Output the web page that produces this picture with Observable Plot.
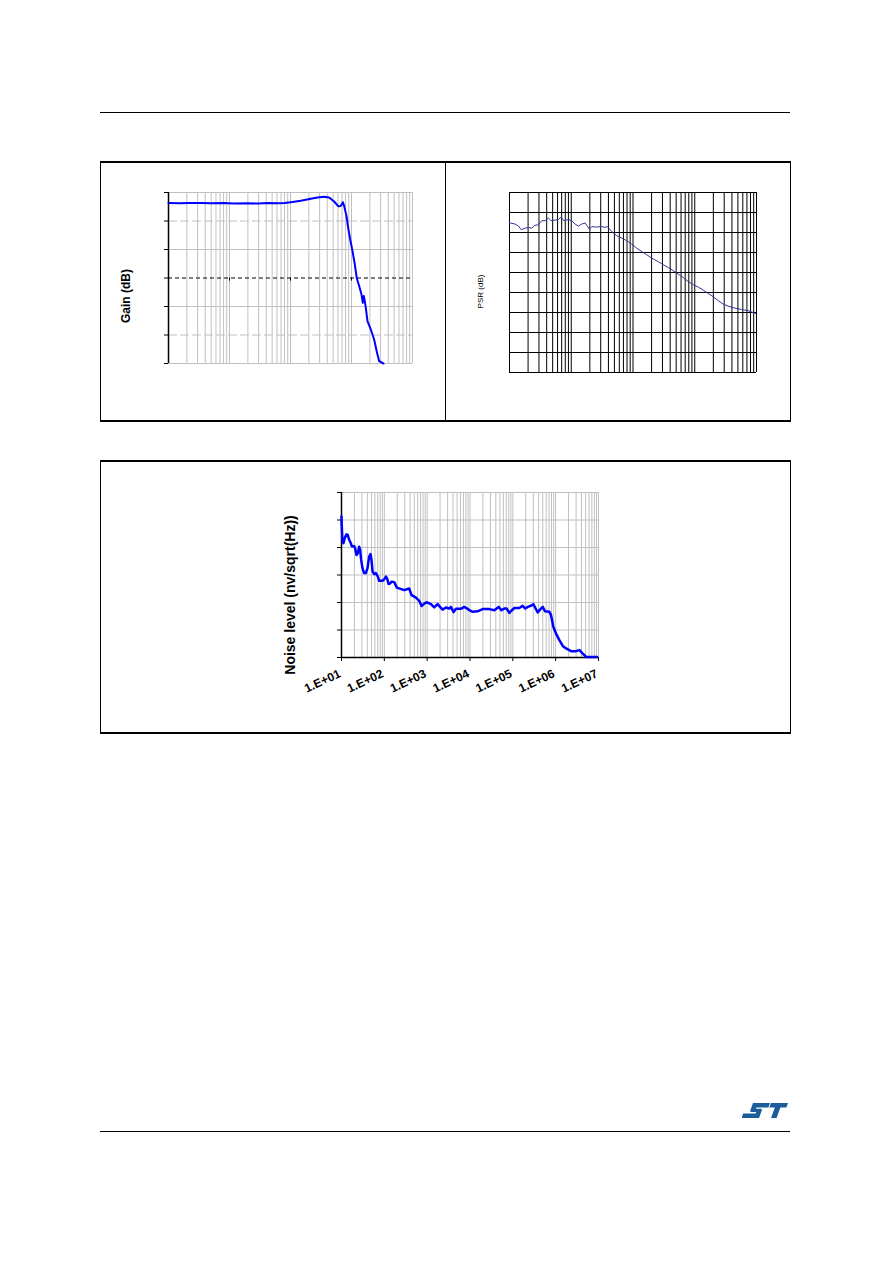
<!DOCTYPE html>
<html><head><meta charset="utf-8">
<script src="https://cdn.jsdelivr.net/npm/d3@7"></script>
<script src="https://cdn.jsdelivr.net/npm/@observablehq/plot@0.6"></script>
<style>
body{margin:0;background:#fff;}
#page{position:relative;width:892px;height:1263px;overflow:hidden;font-family:"Liberation Sans",Arial,sans-serif;background:#fff;}
.rule{position:absolute;left:100px;width:690px;height:0;border-top:1px solid #000;}
.frame{position:absolute;box-sizing:border-box;border:1px solid #000;border-top-width:2px;border-bottom-width:2px;}
.chart{position:absolute;}
.chart svg{display:block;overflow:visible;}
</style></head>
<body><div id="page">
<div class="rule" style="top:112px"></div>
<div class="frame" style="left:100px;top:161px;width:691px;height:261px"></div>
<div style="position:absolute;left:445px;top:162px;width:1px;height:258px;background:#000"></div>
<div class="frame" style="left:100px;top:460px;width:691px;height:274px"></div>
<div class="rule" style="top:1131px"></div>
<svg style="position:absolute;left:742px;top:1103px" width="46" height="16" viewBox="0 0 46 16">
  <g transform="translate(5,0) skewX(-20)" fill="#1b5c9a">
    <path d="M6,0 H23 V4.5 H11 V5.8 H16 Q17.5,5.8 17.5,7.8 V15 H0 V10.5 H12.5 V9 H7.5 Q6,9 6,7 Z"/>
    <path d="M24,0 H41 V4.5 H35 V15 H29.5 V4.5 H24 Z"/>
  </g>
</svg>
<div id="c1" class="chart" style="left:101px;top:163px"></div>
<div id="c2" class="chart" style="left:446px;top:163px"></div>
<div id="c3" class="chart" style="left:101px;top:462px"></div>
</div>
<script>
// ---- Gain vs frequency ----
const gainFreq = [1000,1500,2200,3400,5000,8000,11900,20000,30000,41900,60000,80000,101100,147500,215300,276700,355800,429900,519300,603800,668000,720000,757000,827000,881000,950000,1038000,1133000,1222000,1335000,1457000,1532000,1591000,1652000,1715000,1827000,2071000,2350000,2600000,2840000,3343000];
const gainDb = [26.3,26.2,26.3,26.3,26.2,26.3,26.1,26.2,26.1,26.3,26.2,26.3,26.6,27.1,27.8,28.25,28.5,28.25,26.85,25.2,25.3,26.6,25.3,21.8,17.7,13.6,9.5,4.8,-0.1,-2.8,-5.7,-8.7,-6.3,-8.1,-10.4,-15.1,-18.05,-21.6,-25.9,-29.2,-30.0];
const gainYTicks = [-30,-20,-10,0,10,20,30];
const gainDecades = [1e3,1e4,1e5,1e6,1e7];

// ---- PSR vs frequency ----
const psrFreq = [50,52.6,61.8,70,77.3,89.7,101.6,115,127,147,167,189,214,236,274,310,343,378,450,509,577,653,740,837,984,1074,1294,1557,1762,1922,2259,2721,3280,3951,4760,5730,6900,8316,10020,12850,15460,18620,22430,27020,32550,39220,47220,56880,68530,82560,99500,119900,144200,173800,222800,285700,366300,440700,480800];
const psrDb = [74.8,74.7,74.2,73.2,71.4,72.2,72.5,72.2,73.5,73.9,75.9,75.9,77.2,75.9,76.2,76.5,77.7,75.9,76.5,75.9,74.2,73.2,74.2,74.8,71.7,72.9,72.7,73.0,72.5,73.0,70.5,68.4,67.2,65.9,64.2,62.2,60.5,58.9,57.2,55.4,53.9,52.5,50.9,49.2,47.5,45.5,43.9,42.7,41.2,39.5,37.9,35.9,34.2,33.2,32.2,31.5,30.9,30.0,29.5];
const psrYTicks = [0,10,20,30,40,50,60,70,80,90];
const psrGridMultipliers = [1,1.5,2,2.5,3,3.5,4,4.5,5];

// ---- Noise level vs frequency ----
const noiseFreq = [10,10.05,10.5,11.1,11.9,13.1,14.0,15.1,16.5,17.4,19.7,20.8,22.4,24.0,25.8,27.2,28.8,30.9,33.8,37.0,40.5,44.2,47.5,50.2,53.0,57.9,63.4,70.6,75.9,90.8,101,109,117,125,137,150,170,196,291,381,432,546,653,740,855,969,1222,1462,1750,2291,2742,3281,3589,4142,4695,6148,7362,8810,9620,11530,15070,19730,28250,36980,46670,53830,63390,71780,82800,92260,108400,141900,169800,195900,222300,266000,301400,335700,380800,431500,498800,565000,713000,780000,885000,1021000,1222000,1463000,1750000,2291000,2999000,3589000,4295000,5140000,8040000,9290000];
const noiseLevel = [51.3,49.4,42.8,41.6,43.4,44.8,44.6,42.8,41.6,40.5,40.5,39.7,37.3,37.9,40.3,39.1,35.5,32.5,30.7,30.7,32.5,36.7,37.6,35.5,31.3,30.3,30.7,29.4,27.9,27.9,28.6,29.4,28.6,26.7,27.0,27.6,27.4,25.4,24.5,25.1,22.7,21.8,20.6,18.7,19.6,20.1,19.4,18.2,19.4,17.4,18.2,17.8,18.4,16.5,17.7,17.7,18.4,17.7,17.2,16.6,16.8,17.6,17.6,17.2,18.4,17.2,17.8,17.8,16.2,17.0,18.0,18.0,18.8,17.8,18.4,18.8,19.4,18.0,16.4,17.4,18.4,16.8,16.6,15.4,11.1,8.7,6.3,4.2,3.3,2.3,2.3,2.7,1.4,0.2,0.2,0.2];
const noiseYTicks = [0,10,20,30,40,50,60];
const noiseDecades = [1e1,1e2,1e3,1e4,1e5,1e6,1e7];
const noiseTickLabels = ["1.E+01","1.E+02","1.E+03","1.E+04","1.E+05","1.E+06","1.E+07"];

const minorMultipliers = [1,2,3,4,5,6,7,8,9];
function logGrid(lo, hi, mults) {
  const out = [];
  for (let e = Math.floor(Math.log10(lo)) - 1; e <= Math.ceil(Math.log10(hi)); e++)
    for (const m of mults) { const v = m * Math.pow(10, e); if (v >= lo * 0.9999 && v <= hi * 1.0001) out.push(v); }
  return out;
}
const FONT = '"Liberation Sans", Arial, sans-serif';

const gain = gainFreq.map((f, i) => ({f, v: gainDb[i]}));
const psr = psrFreq.map((f, i) => ({f, v: psrDb[i]}));
const noise = noiseFreq.map((f, i) => ({f, v: noiseLevel[i]}));

const c1 = Plot.plot({
  width: 343, height: 256, marginLeft: 67, marginRight: 32, marginTop: 29, marginBottom: 56,
  style: {background: "transparent", fontFamily: FONT, overflow: "visible"},
  x: {type: "log", domain: [1e3, 1e7], axis: null},
  y: {domain: [-30, 30]},
  marks: [
    Plot.ruleX(logGrid(1e3, 1e7, minorMultipliers), {stroke: "#c0c0c0", strokeOpacity: 1}),
    Plot.ruleY([30, 10, -10, -30], {stroke: "#c0c0c0", strokeOpacity: 1}),
    Plot.ruleY([20, -20], {stroke: "#c0c0c0", strokeOpacity: 1, strokeDasharray: "9,3"}),
    Plot.ruleY([0], {stroke: "#000", strokeDasharray: "4,3"}),
    Plot.ruleX(gainDecades.slice(1, 4), {y1: 0, y2: -1.1, stroke: "#000"}),
    Plot.axisY(gainYTicks, {tickSize: 4, tickFormat: () => "", label: null, stroke: "#000"}),
    Plot.ruleX([1e3], {stroke: "#000", strokeWidth: 1.5}),
    Plot.line(gain, {x: "f", y: "v", stroke: "#0000ff", strokeWidth: 2}),
    Plot.text(["Gain (dB)"], {frameAnchor: "left", textAnchor: "middle", rotate: -90, dx: -42, dy: 18, fontSize: 12, fontWeight: "bold", fill: "#000"})
  ]
});
document.getElementById("c1").append(c1);

const c2 = Plot.plot({
  width: 343, height: 256, marginLeft: 63, marginRight: 33, marginTop: 29, marginBottom: 47,
  style: {background: "transparent", fontFamily: FONT, overflow: "visible"},
  x: {type: "log", domain: [50, 5e5], axis: null},
  y: {domain: [0, 90], axis: null},
  marks: [
    Plot.ruleX(logGrid(50, 5e5, psrGridMultipliers), {stroke: "#000", strokeOpacity: 1}),
    Plot.ruleY(psrYTicks, {stroke: "#000", strokeOpacity: 1}),
    Plot.line(psr, {x: "f", y: "v", stroke: "#333399", strokeWidth: 1}),
    Plot.text(["PSR (dB)"], {frameAnchor: "left", textAnchor: "middle", rotate: -90, dx: -29, dy: 9, fontSize: 8, fill: "#000"})
  ]
});
document.getElementById("c2").append(c2);

const c3 = Plot.plot({
  width: 688, height: 270, marginLeft: 240, marginRight: 191, marginTop: 30, marginBottom: 75,
  style: {background: "transparent", fontFamily: FONT, overflow: "visible"},
  x: {type: "log", domain: [10, 1e7]},
  y: {domain: [0, 60]},
  marks: [
    Plot.ruleX(logGrid(10, 1e7, minorMultipliers), {stroke: "#c0c0c0", strokeOpacity: 1}),
    Plot.ruleY(noiseYTicks.slice(1), {stroke: "#c0c0c0", strokeOpacity: 1}),
    Plot.axisX(noiseDecades, {tickSize: 4, tickFormat: () => "", label: null, stroke: "#000"}),
    Plot.axisY(noiseYTicks, {tickSize: 4, tickFormat: () => "", label: null, stroke: "#000"}),
    Plot.ruleY([0], {stroke: "#000", strokeWidth: 1.5}),
    Plot.ruleX([10], {stroke: "#000", strokeWidth: 1.5}),
    Plot.line(noise, {x: "f", y: "v", stroke: "#0000ff", strokeWidth: 2.5}),
    Plot.text(noiseDecades, {x: d => d, text: (d, i) => noiseTickLabels[i], frameAnchor: "bottom", dy: 19, rotate: -25, textAnchor: "end", fontSize: 12, fontWeight: "bold", fill: "#000"}),
    Plot.text(["Noise level (nv/sqrt(Hz))"], {frameAnchor: "left", textAnchor: "middle", rotate: -90, dx: -51, dy: 20, fontSize: 14, fontWeight: "bold", fill: "#000"})
  ]
});
document.getElementById("c3").append(c3);
</script>
</body></html>
